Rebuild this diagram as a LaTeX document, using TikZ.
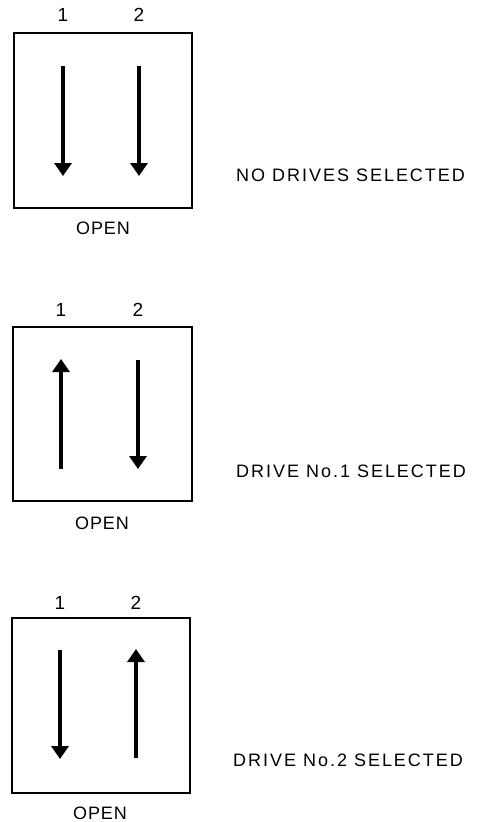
\documentclass[tikz,border=0pt]{standalone}
\usepackage{fontspec}
\setmainfont{Liberation Sans}
\newfontfamily\capsfont[LetterSpace=11]{Liberation Sans}
\newfontfamily\openfont[LetterSpace=5]{Liberation Sans}
\usetikzlibrary{arrows.meta}

\tikzset{
  switchbox/.style={draw, line width=2pt, inner sep=0pt},
  lever/.style={line width=4.6pt, -{Triangle[width=17pt,length=13pt]}, shorten >=-1pt},
  numlabel/.style={font=\fontsize{19}{20}\selectfont, inner sep=0pt},
  openlabel/.style={font=\fontsize{18}{20}\openfont, inner sep=0pt},
  statelabel/.style={font=\fontsize{18}{20}\capsfont, inner sep=0pt, anchor=west}
}

\begin{document}
\begin{tikzpicture}[x=1pt, y=-1pt]
  \useasboundingbox (0,0) rectangle (477,822);

  % ---- both switches off ----
  \draw[switchbox] (14,33) rectangle (192,208);
  \node[numlabel] (a1) at (63,15) {1};
  \node[numlabel] (a2) at (139,15) {2};
  \coordinate (a1t) at (63,66);  \coordinate (a1b) at (63,175);
  \coordinate (a2t) at (139,66); \coordinate (a2b) at (139,175);
  \draw[lever] (a1t) -- (a1b);
  \draw[lever] (a2t) -- (a2b);
  \node[openlabel] (aopen) at (103,228) {OPEN};
  \node[statelabel] (astate) at (236,175) {NO DRIVES SELECTED};

  % ---- switch 1 on ----
  \draw[switchbox] (13,327) rectangle (192,501);
  \node[numlabel] (b1) at (61,310) {1};
  \node[numlabel] (b2) at (138,310) {2};
  \coordinate (b1t) at (61,360);  \coordinate (b1b) at (61,469);
  \coordinate (b2t) at (138,360); \coordinate (b2b) at (138,468);
  \draw[lever] (b1b) -- (b1t);
  \draw[lever] (b2t) -- (b2b);
  \node[openlabel] (bopen) at (102,523) {OPEN};
  \node[statelabel] (bstate) at (236,471) {DRIVE No.1 SELECTED};

  % ---- switch 2 on ----
  \draw[switchbox] (12,618) rectangle (190,793);
  \node[numlabel] (c1) at (60,603) {1};
  \node[numlabel] (c2) at (136,603) {2};
  \coordinate (c1t) at (60,650);  \coordinate (c1b) at (60,758);
  \coordinate (c2t) at (136,650); \coordinate (c2b) at (136,758);
  \draw[lever] (c1t) -- (c1b);
  \draw[lever] (c2b) -- (c2t);
  \node[openlabel] (copen) at (100,813) {OPEN};
  \node[statelabel] (cstate) at (233,760) {DRIVE No.2 SELECTED};
\end{tikzpicture}
\end{document}
